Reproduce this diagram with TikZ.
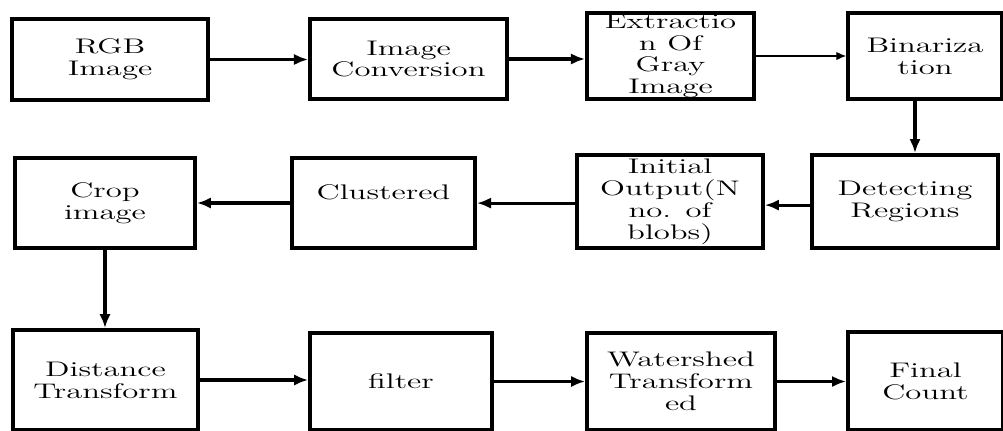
\documentclass[tikz,border=0pt]{standalone}
\usepackage{fontspec}
\newfontfamily\blockfont{lmroman12-regular.otf}[FakeStretch=1.55]
\usepackage{tikz}
\usetikzlibrary{arrows.meta}

\begin{document}
\begin{tikzpicture}[
    x=0.025cm, y=-0.025cm,
    >={Latex[length=10pt,width=8pt]},
    block/.style={draw, line width=2.6pt, align=center, inner sep=0pt,
        font=\blockfont\fontsize{15}{15.6}\selectfont},
    flow/.style={->, line width=2.2pt},
    thinflow/.style={->, line width=0.8pt, >={Latex[length=7pt,width=6pt]}}
]
    \useasboundingbox (0,0) rectangle (1003,430);

    % Row 1
    \node[block, minimum width=4.9cm, minimum height=2.03cm] (rgb) at (110,59.5) {RGB\\Image};
    \node[block, minimum width=4.93cm, minimum height=2.0cm] (conv) at (408.5,59) {Image\\Conversion};
    \node[block, minimum width=4.18cm, minimum height=2.15cm] (extr) at (670.5,56) {Extractio\\n Of\\Gray\\Image};
    \node[block, minimum width=3.85cm, minimum height=2.15cm] (bin) at (925,56) {Binariza\\tion};

    % Row 2
    \node[block, minimum width=4.65cm, minimum height=2.33cm] (det) at (905,201.5) {Detecting\\Regions};
    \node[block, minimum width=4.65cm, minimum height=2.33cm] (init) at (670,201.5) {Initial\\Output(N\\no. of\\blobs)};
    \node[block, minimum width=4.58cm, minimum height=2.25cm] (clus) at (383.5,203) {Clustered\\\mbox{}};
    \node[block, minimum width=4.5cm, minimum height=2.25cm] (crop) at (105,203) {Crop\\image};

    % Row 3
    \node[block, minimum width=4.63cm, minimum height=2.5cm] (dist) at (105.5,380) {Distance\\Transform};
    \node[block, minimum width=4.55cm, minimum height=2.43cm] (filt) at (401,381.5) {filter};
    \node[block, minimum width=4.7cm, minimum height=2.43cm] (wat) at (681,381.5) {Watershed\\Transform\\ed};
    \node[block, minimum width=3.88cm, minimum height=2.45cm] (fin) at (925.5,381) {Final\\Count};

    % Connections
    \draw[flow] (rgb.east) -- (rgb.east -| conv.west);
    \draw[flow] (conv.east) -- (conv.east -| extr.west);
    \draw[thinflow] (extr.east) -- (bin.west);
    \draw[flow] ([xshift=-0.25cm]bin.south) -- ([xshift=-0.25cm]bin.south |- det.north);
    \draw[flow] ([yshift=-0.09cm]det.west) -- ([yshift=-0.09cm]det.west -| init.east);
    \draw[flow] ([yshift=-0.04cm]init.west) -- ([yshift=-0.04cm]init.west -| clus.east);
    \draw[flow] (clus.west) -- (crop.east);
    \draw[flow] (crop.south) -- (crop.south |- dist.north);
    \draw[flow] (dist.east) -- (dist.east -| filt.west);
    \draw[flow] (filt.east) -- (wat.west);
    \draw[flow] (wat.east) -- (wat.east -| fin.west);

\end{tikzpicture}
\end{document}
